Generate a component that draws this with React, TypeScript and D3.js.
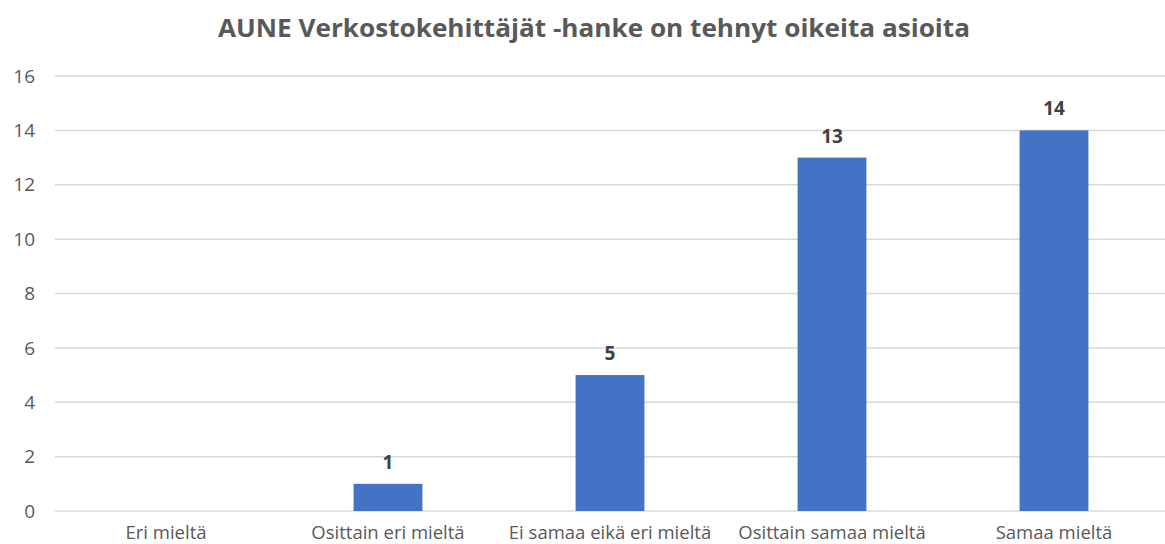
import React, { useEffect, useRef } from "react";
import * as d3 from "d3";

const categories = ["Eri mieltä", "Osittain eri mieltä", "Ei samaa eikä eri mieltä", "Osittain samaa mieltä", "Samaa mieltä"];
const values = [0, 1, 5, 13, 14];
const yTicks = [0, 2, 4, 6, 8, 10, 12, 14, 16];
const title = "AUNE Verkostokehittäjät -hanke on tehnyt oikeita asioita";

const WIDTH = 1165;
const HEIGHT = 544;
const FONT = "'Open Sans', 'Lato', 'DejaVu Sans', sans-serif";

export default function App() {
  const ref = useRef<SVGSVGElement>(null);

  useEffect(() => {
    const svg = d3.select(ref.current);
    svg.selectAll("*").remove();

    const margin = { top: 76, right: 0, bottom: 33, left: 55 };
    const innerW = WIDTH - margin.left - margin.right;
    const innerH = HEIGHT - margin.top - margin.bottom;

    const x = d3.scaleBand().domain(categories).range([0, innerW]).paddingInner(0.69).paddingOuter(0.345);
    const y = d3.scaleLinear().domain([0, 16]).range([innerH, 0]);

    svg.append("text")
      .attr("x", 594)
      .attr("y", 37)
      .attr("text-anchor", "middle")
      .attr("textLength", 752)
      .attr("lengthAdjust", "spacingAndGlyphs")
      .style("font-family", FONT)
      .style("font-size", "25px")
      .style("font-weight", "bold")
      .attr("fill", "#595959")
      .text(title);

    const g = svg.append("g").attr("transform", `translate(${margin.left},${margin.top})`);

    g.selectAll(".grid")
      .data(yTicks)
      .join("line")
      .attr("class", "grid")
      .attr("x1", 0)
      .attr("x2", innerW)
      .attr("y1", d => y(d))
      .attr("y2", d => y(d))
      .attr("stroke", "#d9d9d9")
      .attr("stroke-width", 1.5);

    g.selectAll(".ytick")
      .data(yTicks)
      .join("text")
      .attr("class", "ytick")
      .attr("x", -20)
      .attr("y", d => y(d))
      .attr("dy", "0.35em")
      .attr("text-anchor", "end")
      .style("font-family", FONT)
      .style("font-size", "19px")
      .attr("fill", "#595959")
      .text(d => d);

    g.selectAll(".bar")
      .data(values)
      .join("rect")
      .attr("class", "bar")
      .attr("x", (d, i) => x(categories[i])!)
      .attr("y", d => y(d))
      .attr("width", x.bandwidth())
      .attr("height", d => innerH - y(d))
      .attr("fill", "#4472c4");

    g.selectAll(".val")
      .data(values.map((v, i) => ({ v, c: categories[i] })).filter(d => d.v > 0))
      .join("text")
      .attr("class", "val")
      .attr("x", d => x(d.c)! + x.bandwidth() / 2)
      .attr("y", d => y(d.v) - 15)
      .attr("text-anchor", "middle")
      .style("font-family", FONT)
      .style("font-size", "19px")
      .style("font-weight", "bold")
      .attr("fill", "#404040")
      .text(d => d.v);

    g.selectAll(".cat")
      .data(categories)
      .join("text")
      .attr("class", "cat")
      .attr("x", d => x(d)! + x.bandwidth() / 2)
      .attr("y", innerH + 28)
      .attr("text-anchor", "middle")
      .style("font-family", FONT)
      .style("font-size", "18.5px")
      .attr("fill", "#595959")
      .text(d => d);
  }, []);

  return <svg ref={ref} width={WIDTH} height={HEIGHT} style={{ position: "absolute", left: 0, top: 0 }}></svg>;
}
